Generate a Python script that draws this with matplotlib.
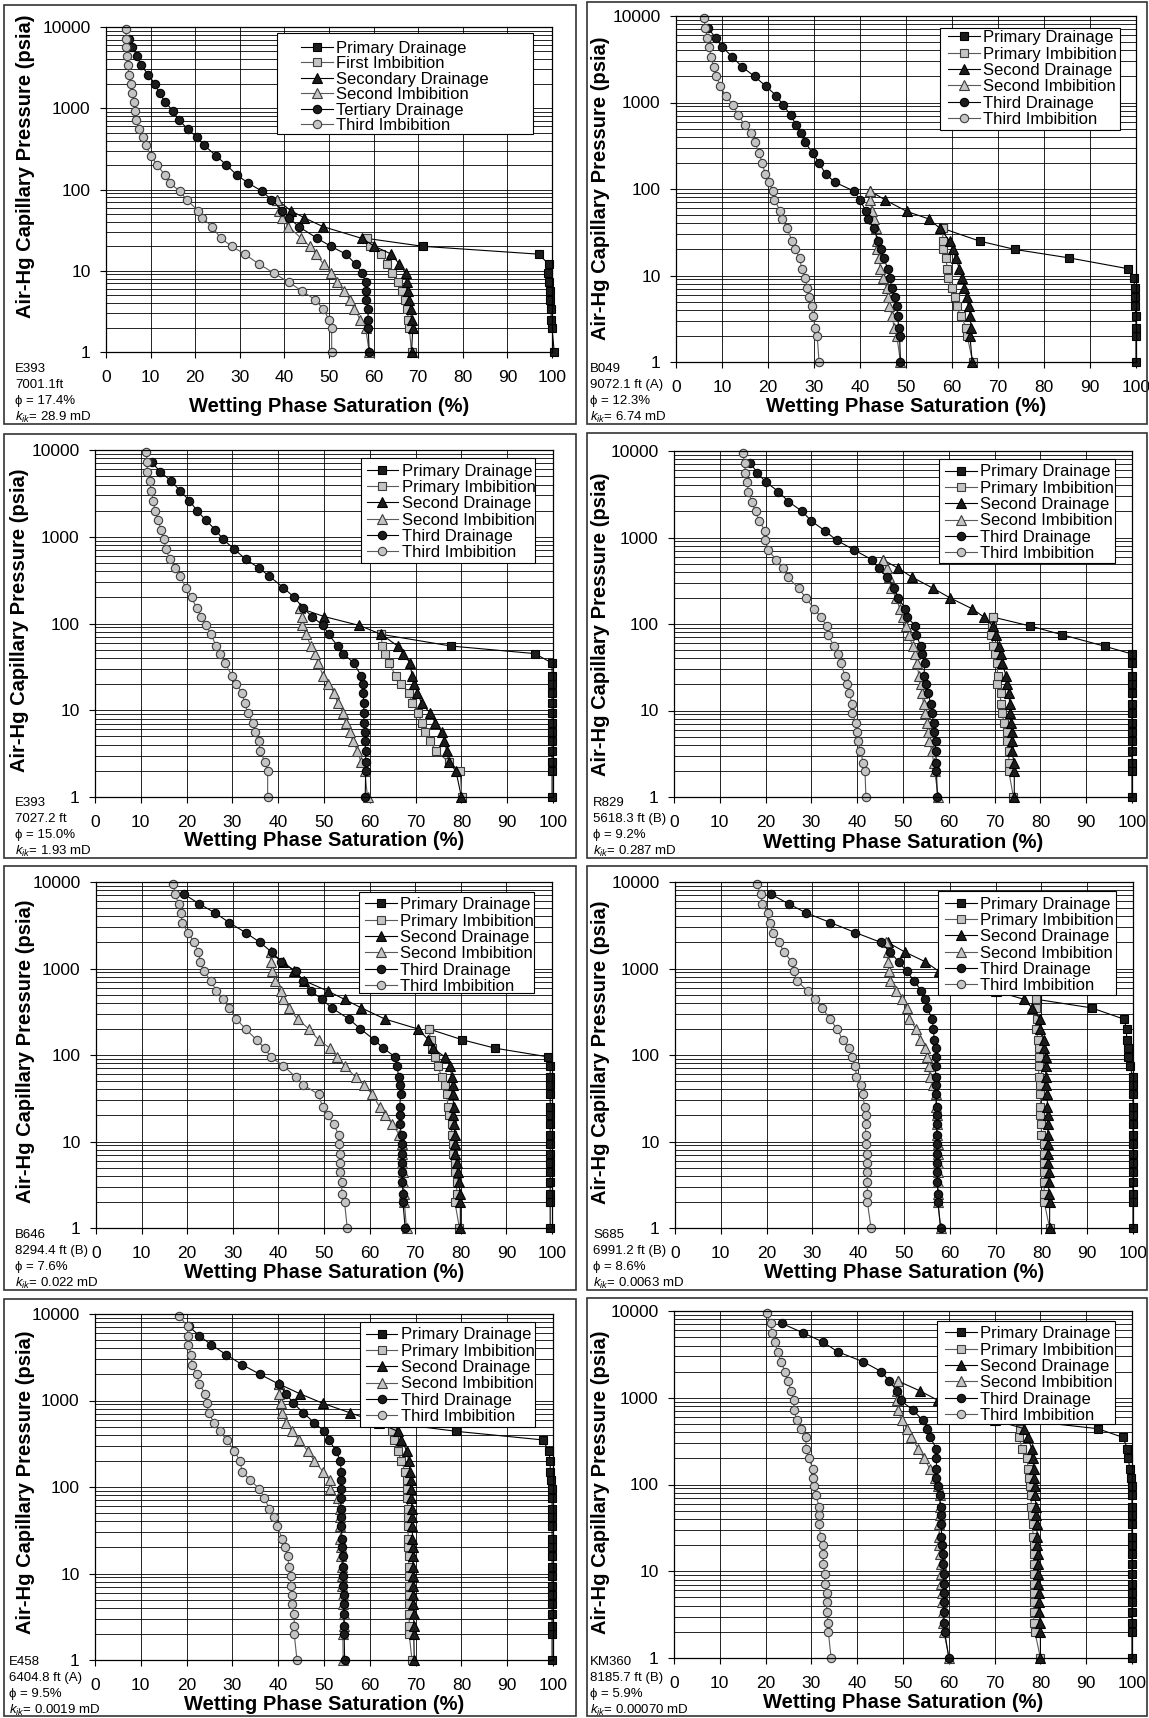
import numpy as np
import matplotlib
matplotlib.use("Agg")
import matplotlib.pyplot as plt
from matplotlib.patches import Rectangle
from matplotlib.ticker import LogLocator, NullFormatter

plt.rcParams['font.family'] = ['Liberation Sans', 'DejaVu Sans']
plt.rcParams['mathtext.fontset'] = 'custom'
plt.rcParams['mathtext.rm'] = 'Liberation Sans'
plt.rcParams['mathtext.it'] = 'Liberation Sans:italic'

# capillary pressure steps (psia), every run starts at 1 psia and climbs this ladder
pc = [1, 2, 2.5, 3.4, 4.4, 5.6, 7.2, 9.4, 12, 16, 20, 25, 35, 45, 55, 75, 95,
      120, 150, 200, 260, 350, 440, 550, 720, 930, 1200, 1550, 2000, 2600,
      3400, 4400, 5600, 7200, 9500]

# wetting phase saturation (%) at pc[0], pc[1], ... for each run
# E393 7001.1 ft
e393a_pd = [100.5, 100, 99.8, 99.8, 99.6, 99.5, 99.3, 99.2, 99.3, 97, 71, 58.5]
e393a_pi = [68.5, 68, 67.8, 67.5, 67, 66.3, 65.5, 64.2, 63, 61.7, 59.2, 58.5]
e393a_sd = [68.5, 68.8, 68.5, 68.3, 68, 67.8, 67.5, 67.2, 65.8, 64, 60.2, 57.4, 48.6, 44.4, 41.4, 38.3]
e393a_si = [59, 58.2, 57, 55.7, 54.7, 53.3, 51.9, 50.5, 48.8, 47.1, 45.7, 43.8, 40.9, 39.5, 38.7, 38.3]
e393a_td = [59, 58.8, 58.8, 58.7, 58.4, 58.4, 58.2, 57.4, 56, 53.8, 50.4, 47.4, 43.2, 41, 39.5, 37.1, 35,
            31.9, 29.4, 27, 24.7, 22, 20.4, 18.4, 16.3, 15, 13.2, 12, 10.9, 9.5, 7.8, 7, 5.9, 5.2]
e393a_ti = [50.6, 50.6, 50, 48.7, 46.9, 44, 41, 37.6, 34.4, 31.1, 28.2, 25.8, 23.7, 21.6, 20.6, 18.1, 16.5,
            14.4, 13.2, 11.5, 10.1, 8.9, 8.2, 7.4, 6.7, 6.6, 6.3, 5.9, 5.5, 5.1, 4.9, 4.8, 4.5, 4.5, 4.5]

# B049 9072.1 ft (A)
b049_pd = [100, 100, 100, 100, 99.8, 99.8, 99.7, 99.5, 98.2, 85.4, 73.7, 66, 58]
b049_pi = [64.5, 63.3, 63.1, 61.9, 61, 60.6, 59.9, 59.1, 59, 58.6, 58, 58, 58]
b049_sd = [64.4, 63.9, 64.1, 64, 63.6, 63.2, 62.7, 62.2, 61.6, 60.8, 60.2, 59.5, 57.4, 55, 50.2, 45.4, 42.2]
b049_si = [48.8, 48, 47.4, 47, 46.4, 46, 45.8, 45, 44.4, 44.2, 43.6, 43.6, 43.4, 43, 42.6, 42.2, 42.2]
b049_td = [48.8, 48.6, 48.4, 48.2, 48, 47.6, 46.9, 46.5, 46, 45.2, 44.5, 44, 43, 41.8, 41.3, 40, 38.6,
           34.5, 32.5, 31.1, 29.7, 28, 27.1, 26.1, 24.9, 23.3, 21.8, 19.5, 17.1, 14.3, 12.2, 10, 8.6, 7]
b049_ti = [31.1, 30.7, 30.3, 29.7, 29.5, 28.9, 28.5, 28.1, 27.3, 26.9, 25.9, 25.3, 24.1, 23.1, 22.7, 21.4, 21,
           20.2, 19.4, 18.7, 18.1, 17.1, 16.3, 14.9, 13.5, 12.4, 10.8, 9.6, 8.8, 8.2, 7.6, 7.2, 6.8, 6.4, 6]

# E393 7027.2 ft
e393b_pd = [99.8, 99.8, 99.8, 99.8, 99.8, 99.8, 99.8, 99.8, 99.8, 99.8, 99.8, 99.8, 99.8, 96, 77.7, 62.5]
e393b_pi = [80.1, 79.7, 77.3, 74.5, 73.1, 72.1, 71.3, 70.5, 69.3, 68.5, 66.9, 65.7, 64.1, 63.3, 62.7, 62.5]
e393b_sd = [80, 78.8, 77.3, 76.8, 76.3, 75.7, 74.3, 73.1, 71.3, 70.4, 69.6, 69.2, 68.8, 67.3, 66.1, 62.5,
            57.7, 50.1, 44.7]
e393b_si = [59.5, 58.9, 58.1, 57.3, 56.3, 55.7, 54.7, 54.2, 53, 52.2, 50.9, 49.8, 48.7, 48.1, 47.1, 46.1,
            45.3, 45.3, 44.7]
e393b_td = [59, 59.1, 59.1, 59.1, 58.9, 58.9, 58.7, 58.7, 58.7, 58.5, 58.5, 58.1, 56.5, 54.2, 53, 51, 49.8,
            47.4, 45.5, 43.5, 41.1, 38.1, 35.7, 32.9, 30.4, 28, 26.3, 24.2, 22.3, 20.6, 18.6, 16.6, 14.3, 12.4]
e393b_ti = [37.7, 37.7, 37.1, 36.1, 35.7, 34.9, 34.5, 33.3, 32.7, 32.1, 30.8, 29.9, 28.4, 27.2, 26.4, 25.4,
            24.2, 23.2, 22.2, 21.1, 19.8, 18.6, 17.5, 16.3, 15.5, 15, 14.4, 13.8, 13.1, 12.7, 12.3, 11.9,
            11.4, 11.4, 11.1]

# R829 5618.3 ft (B)
r829_pd = [100, 100, 100, 100, 100, 100, 100, 100, 100, 100, 100, 100, 100, 100, 94.2, 84.8, 77.7, 69.7]
r829_pi = [74.1, 73.1, 73.1, 73.1, 72.8, 72.8, 72, 71.7, 71.3, 71.3, 70.5, 70.7, 70.5, 70.1, 69.7, 69.3,
           69.5, 69.6]
r829_sd = [74.3, 74.3, 74.3, 73.7, 73.7, 73.7, 73.6, 73.3, 73.3, 73.1, 72.8, 72.5, 71.7, 71.3, 70.9, 70.3,
           69.6, 67.7, 65.1, 60.3, 56.5, 51.9, 49, 45.7]
r829_si = [57.7, 56.9, 56.7, 56.3, 55.7, 55.4, 55.3, 54.9, 54.5, 54.1, 53.9, 53.5, 53, 52.7, 52.1, 51.3,
           50.7, 49.9, 49.3, 48.5, 47.4, 46.9, 46.5, 45.7]
r829_td = [57.5, 57.3, 57.3, 57.1, 57.1, 56.7, 56.7, 56.3, 56.1, 55.4, 55, 54.6, 54.7, 54.1, 53.9, 52.9,
           52.7, 50.9, 50.5, 49, 48.1, 46.5, 44.7, 43.3, 39.3, 35.5, 32.9, 30, 28, 25, 22.8, 20, 18.2, 16.7]
r829_ti = [41.9, 41.7, 41.3, 40.7, 40.2, 39.9, 39.7, 38.9, 38.9, 38.2, 37.7, 37.3, 36.5, 35.7, 34.9, 33.7,
           33.3, 32.1, 30.6, 28.8, 27.2, 24.8, 23.8, 22.3, 20.6, 19.9, 19.9, 18.6, 17.8, 17, 16.2, 16,
           15.6, 15.4, 15]

# B646 8294.4 ft (B)
b646_pd = [99.6, 99.6, 99.6, 99.6, 99.6, 99.6, 99.6, 99.6, 99.6, 99.6, 99.6, 99.6, 99.6, 99.6, 99.6, 99.6,
           99.2, 87.5, 80.3, 73]
b646_pi = [79.7, 78.7, 79.1, 79.1, 78.7, 78.7, 78.3, 78.3, 78, 78, 77.5, 77.2, 76.9, 76.5, 75.9, 74.9,
           74.3, 73.7, 73.4, 73]
b646_sd = [79.9, 79.9, 79.9, 79.5, 79.3, 79.1, 78.7, 78.7, 78.7, 78.5, 78.3, 78.4, 78.3, 78.3, 78, 77.7,
           76.5, 73.9, 72.9, 70.6, 63.4, 58.2, 54.5, 50.8, 45.7, 43.5, 40.9, 38.3]
b646_si = [68.1, 67.6, 67.5, 67.4, 67.3, 67.2, 67.1, 67, 66.5, 65, 63.4, 62.2, 60.6, 58.8, 57, 54.5, 52.8,
           51.3, 48.8, 46.7, 44.2, 42.3, 41.1, 40.5, 39.3, 38.6, 38.3, 38.3]
b646_td = [67.8, 67.3, 67.3, 67.2, 67, 67, 67, 67, 67, 66.6, 66.6, 66.6, 66.8, 66.6, 66.4, 66, 65.6, 63,
           61, 58, 55.5, 51.7, 49.6, 47.1, 45.3, 43.9, 40.5, 38.5, 36, 32.8, 29.2, 26.1, 22.6, 19.4]
b646_ti = [55.1, 54.5, 53.9, 53.9, 53.5, 53.5, 53.5, 53.3, 53.2, 52.1, 50.8, 49.7, 48.8, 45.5, 43.9, 41.1,
           38.3, 37, 35.2, 32.8, 30.8, 29.2, 27.8, 26.4, 25.2, 23.6, 22.9, 22.4, 21.6, 20.1, 18.9, 18.6,
           18.1, 17.4, 16.9]

# S685 6991.2 ft (B)
s685_pd = [100, 100, 100, 100, 100, 100, 100, 100, 100, 100, 100, 100, 100, 100, 100, 99.3, 99, 98.8,
           98.6, 98.6, 98, 91, 79]
s685_pi = [81.8, 80.6, 80.6, 80.6, 80.6, 80.6, 80.5, 80.5, 80, 80, 79.8, 79.8, 79.8, 79.7, 79.4, 79.4,
           79.4, 79.4, 79.2, 78.9, 79, 78.9, 78.9]
s685_sd = [81.8, 81.8, 81.6, 81.6, 81.6, 81.4, 81.4, 81.4, 81.4, 81.4, 81.4, 81.3, 81.3, 81, 81, 80.9,
           80.9, 80.6, 80.6, 79.8, 79.7, 78, 76.2, 70, 62, 57.6, 54.6, 50.2, 46.5]
s685_si = [58, 57.4, 57.4, 57.4, 57.4, 57.4, 57.4, 57.4, 57.2, 57.2, 57.2, 57, 57, 56.4, 55.6, 55.4, 55,
           54.6, 53.6, 52.6, 51.2, 50.6, 49.6, 48.2, 47, 46.8, 46.6, 46.4, 46]
s685_td = [58, 57.4, 57.4, 57.3, 57.3, 57.3, 57.2, 57.2, 57.2, 57.1, 57.1, 57.1, 57, 56.9, 56.9, 56.9,
           56.9, 56.9, 56.6, 56.4, 56.2, 55, 54.6, 53.8, 52.2, 50.6, 48.8, 47, 45, 39.4, 33.9, 28.6,
           24.8, 21]
s685_ti = [42.8, 42, 42, 42, 42, 42, 42, 41.8, 41.6, 41.6, 41.6, 41.4, 41, 40.6, 39.6, 39.4, 38.6, 38,
           36.6, 35.4, 33.8, 32.2, 30.6, 29, 26.6, 25.9, 25.5, 23.8, 22.7, 21.4, 20.7, 20.2, 19.1, 18.7,
           17.9]

# E458 6404.8 ft (A)
e458_pd = [99.8, 99.8, 99.8, 99.8, 99.8, 99.8, 99.8, 99.8, 99.8, 99.8, 99.8, 99.8, 99.8, 99.8, 99.8, 99.8,
           99.8, 99.6, 99.4, 99.4, 99.1, 97.8, 78.9, 64.7]
e458_pi = [69.2, 68.6, 68.6, 68.6, 68.6, 68.6, 68.6, 68.5, 68.5, 68.5, 68.4, 68.4, 68.3, 68.3, 68.3, 68.2,
           68.2, 68.1, 67.7, 66.9, 66.1, 65.3, 64.9, 64.7]
e458_sd = [69.7, 69.6, 69.6, 69.6, 69.5, 69.5, 69.5, 69.5, 69.4, 69.4, 69.4, 69.3, 69.3, 69.2, 69.2, 69.1,
           69, 68.9, 68.8, 68.5, 68.1, 66.9, 66.1, 62, 55.7, 49.7, 44.7, 40.2]
e458_si = [54.2, 54.1, 54.3, 54.3, 54.2, 54.1, 54, 54, 53.9, 53.8, 53.7, 53.6, 53.6, 53.5, 53.4, 53, 51.4,
           51.3, 49.8, 47.9, 46.5, 44.5, 43, 41.8, 40.9, 40.7, 40.1, 40.2]
e458_td = [54.5, 54.4, 54.4, 54.4, 54.3, 54.3, 54.2, 54.2, 54.2, 54.1, 54, 54, 53.7, 53.7, 53.7, 53.7, 53.8,
           53.8, 53.8, 53.5, 52.7, 51, 50.1, 47.9, 45.5, 43.3, 41.7, 40.1, 36.1, 32.1, 28.6, 25.4, 22.8,
           20.5]
e458_ti = [44.1, 43.5, 43.5, 43.5, 43, 43, 42.7, 42.7, 42.3, 42.1, 41.5, 40.9, 39.8, 39.1, 38.1, 37, 35.9,
           33.9, 32.1, 31.7, 30.4, 28.8, 27.2, 26, 24.8, 24.4, 24, 22.8, 22.2, 21.2, 21, 20.4, 20.2, 20.2,
           18.4]

# KM360 8185.7 ft (B)
km360_pd = [100, 100, 100, 100, 100, 100, 100, 100, 100, 100, 100, 100, 100, 100, 100, 100, 100, 99.8,
            99.5, 99.2, 99, 98, 92.5, 76]
km360_pi = [80, 78.8, 78.6, 78.5, 78.5, 78.5, 78.5, 78.5, 78.5, 78.5, 78.5, 78.4, 78.3, 78.2, 78, 78,
            77.8, 77.6, 77.4, 77, 76, 75.3, 75.5, 76]
km360_sd = [80, 80, 79.9, 79.8, 79.7, 79.6, 79.5, 79.5, 79.4, 79.4, 79.3, 79.3, 79.2, 79.1, 79, 78.9,
            78.9, 78.7, 78.5, 78.4, 78.1, 77.2, 76.5, 70, 62, 57.7, 53.7, 49]
km360_si = [60.1, 58.9, 58.8, 58.7, 58.6, 58.5, 58.4, 58.3, 58.3, 58, 57.9, 57.9, 57.9, 58, 58.1, 58,
            57.7, 56.9, 55.9, 54.6, 53.3, 51.8, 50.9, 49.7, 48.9, 48.7, 48.7, 48.9]
km360_td = [60, 59.1, 59, 58.9, 58.9, 58.9, 58.9, 58.9, 58.8, 58.7, 58.5, 58.4, 58.4, 58.3, 58.2, 58,
            57.6, 57.3, 57.3, 57.3, 57.3, 55.9, 55.3, 54.3, 52.2, 49.5, 48.7, 47, 45.3, 41.3, 35.7, 32.5,
            28.2, 23.5]
km360_ti = [34.3, 33.7, 33.7, 33.3, 33.3, 33.3, 32.9, 32.9, 32.6, 32.6, 32.5, 32, 31.7, 31.7, 31.7, 31,
            30.6, 30.4, 30.4, 29.4, 28.8, 28.8, 27.8, 26.8, 26.2, 26.2, 25.6, 24.8, 24.2, 23.4, 22.6, 22,
            21.4, 21.1, 20.2]

cores = ['E393', 'B049', 'E393', 'R829', 'B646', 'S685', 'E458', 'KM360']
depths = ['7001.1ft', '9072.1 ft (A)', '7027.2 ft', '5618.3 ft (B)', '8294.4 ft (B)',
          '6991.2 ft (B)', '6404.8 ft (A)', '8185.7 ft (B)']
porosity = ['17.4%', '12.3%', '15.0%', '9.2%', '7.6%', '8.6%', '9.5%', '5.9%']
perm = ['28.9', '6.74', '1.93', '0.287', '0.022', '0.0063', '0.0019', '0.00070']

labels_first = ['Primary Drainage', 'First Imbibition', 'Secondary Drainage',
                'Second Imbibition', 'Tertiary Drainage', 'Third Imbibition']
labels_rest = ['Primary Drainage', 'Primary Imbibition', 'Second Drainage',
               'Second Imbibition', 'Third Drainage', 'Third Imbibition']

panels = [
    [e393a_pd, e393a_pi, e393a_sd, e393a_si, e393a_td, e393a_ti],
    [b049_pd, b049_pi, b049_sd, b049_si, b049_td, b049_ti],
    [e393b_pd, e393b_pi, e393b_sd, e393b_si, e393b_td, e393b_ti],
    [r829_pd, r829_pi, r829_sd, r829_si, r829_td, r829_ti],
    [b646_pd, b646_pi, b646_sd, b646_si, b646_td, b646_ti],
    [s685_pd, s685_pi, s685_sd, s685_si, s685_td, s685_ti],
    [e458_pd, e458_pi, e458_sd, e458_si, e458_td, e458_ti],
    [km360_pd, km360_pi, km360_sd, km360_si, km360_td, km360_ti],
]

# ---- layout (pixels of the 1149 x 1718 image) ----
W, H = 1149, 1718
axes_px = [(106, 27, 552, 352), (676, 16, 1136, 362), (95, 450, 553, 797), (674, 451, 1132, 797),
           (96, 882, 552, 1228), (675, 882, 1133, 1228), (95, 1314, 553, 1660), (674, 1311, 1132, 1658)]
box_px = [(4, 5, 576, 424), (587, 2, 1147, 424), (4, 434, 576, 858), (587, 433, 1147, 858),
          (4, 866, 576, 1290), (587, 866, 1147, 1290), (4, 1299, 576, 1716), (587, 1298, 1147, 1716)]
ylab_px = [(26, 166), (601, 188), (20, 620), (601, 624), (26, 1051), (601, 1052), (26, 1482), (601, 1482)]
xlab_px = [406, 407, 841, 842, 1273, 1273, 1705, 1703]
# left edge and centre of the last line of the sample note
note_px = [(15, 417), (590, 417), (15, 851), (593, 851), (15, 1283), (593, 1283), (9, 1710), (590, 1710)]
# legend box (x0, y0, x1, y1) and entry anchor, in axes fraction
leg_box = [(0.383, 0.671, 0.957, 0.982), (0.574, 0.671, 0.965, 0.965), (0.581, 0.674, 0.961, 0.977),
           (0.579, 0.676, 0.963, 0.977), (0.577, 0.679, 0.960, 0.971), (0.574, 0.673, 0.963, 0.974),
           (0.579, 0.673, 0.961, 0.977), (0.574, 0.674, 0.963, 0.971)]
leg_anchor = [(0.437, 0.958), (0.591, 0.959), (0.593, 0.961), (0.592, 0.961),
              (0.590, 0.956), (0.590, 0.958), (0.591, 0.961), (0.592, 0.956)]
leg_spacing = [0.03, 0.08, 0.08, 0.08, 0.08, 0.08, 0.08, 0.08]

black = '#1c1c1c'
grey = '#c4c4c4'
styles = [
    dict(marker='s', ms=6, mfc=black, mec='black', color='black'),
    dict(marker='s', ms=6, mfc=grey, mec='#3c3c3c', color='#5a5a5a'),
    dict(marker='^', ms=7, mfc=black, mec='black', color='black'),
    dict(marker='^', ms=7, mfc=grey, mec='#3c3c3c', color='#5a5a5a'),
    dict(marker='o', ms=6, mfc=black, mec='black', color='black'),
    dict(marker='o', ms=6, mfc=grey, mec='#3c3c3c', color='#5a5a5a'),
]

fig = plt.figure(figsize=(11.49, 17.18), dpi=100)

for i, runs in enumerate(panels):
    bx0, by0, bx1, by1 = box_px[i]
    fig.patches.append(Rectangle((bx0 / W, 1 - by1 / H), (bx1 - bx0) / W, (by1 - by0) / H,
                                 transform=fig.transFigure, fill=False, ec='#333333', lw=1.2))

    l, t, r, b = axes_px[i]
    ax = fig.add_axes([l / W, 1 - b / H, (r - l) / W, (b - t) / H])
    labels = labels_first if i == 0 else labels_rest
    for sw, st, lab in zip(runs, styles, labels):
        ax.plot(sw, pc[:len(sw)], lw=0.8, mew=0.8, label=lab, clip_on=False, **st)

    ax.set_yscale('log')
    ax.set_xlim(0, 100)
    ax.set_ylim(1, 10000)
    ax.set_xticks(range(0, 101, 10))
    ax.set_yticks([1, 10, 100, 1000, 10000])
    ax.set_yticklabels(['1', '10', '100', '1000', '10000'])
    ax.yaxis.set_minor_locator(LogLocator(base=10, subs=np.arange(2, 10)))
    ax.yaxis.set_minor_formatter(NullFormatter())
    ax.tick_params(which='minor', length=0)
    ax.tick_params(axis='x', labelsize=12.5, length=4, pad=9)
    ax.tick_params(axis='y', labelsize=12.5, length=4, pad=7)
    ax.set_axisbelow(True)
    ax.grid(True, which='both', axis='y', color='black', lw=0.6)
    ax.grid(True, which='major', axis='x', color='black', lw=0.6)
    for s in ax.spines.values():
        s.set_linewidth(0.9)

    ax.set_xlabel('Wetting Phase Saturation (%)', fontsize=14.5, fontweight='bold')
    ax.xaxis.set_label_coords(((l + r) / 2) / W, 1 - xlab_px[i] / H, transform=fig.transFigure)
    ax.xaxis.label.set_va('center')
    ax.set_ylabel('Air-Hg Capillary Pressure (psia)', fontsize=14.5, fontweight='bold')
    ax.yaxis.set_label_coords(ylab_px[i][0] / W, 1 - ylab_px[i][1] / H, transform=fig.transFigure)
    ax.yaxis.label.set_va('center')

    x0, y0, x1, y1 = leg_box[i]
    ax.add_patch(Rectangle((x0, y0), x1 - x0, y1 - y0, transform=ax.transAxes,
                           fc='white', ec='black', lw=0.8, zorder=4))
    ax.legend(loc='upper left', bbox_to_anchor=leg_anchor[i], frameon=False, fontsize=12,
              handlelength=1.9, handletextpad=0.2, labelspacing=leg_spacing[i], borderpad=0,
              borderaxespad=0, numpoints=1)

    # sample note, one text per line
    nx, ny = note_px[i]
    lines = [cores[i], depths[i], '\u03d5 = ' + porosity[i], '$k_{ik}$= ' + perm[i] + ' mD']
    for k, line in enumerate(lines):
        fig.text(nx / W, 1 - (ny - (3 - k) * 16) / H, line,
                 ha='left', va='center', fontsize=9.5)

fig.savefig('out.png', dpi=100)
